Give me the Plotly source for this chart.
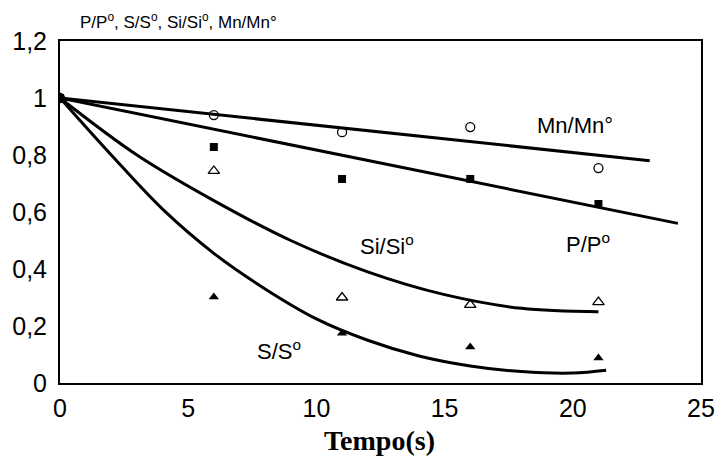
import plotly.graph_objects as go

# measured points (t = 0, 6, 11, 16, 21 s)
t_pts = [0, 6, 11, 16, 21]
mn_pts = [1.0, 0.94, 0.88, 0.898, 0.754]
p_pts = [1.0, 0.828, 0.716, 0.716, 0.628]
si_pts = [1.0, 0.744, 0.30, 0.274, 0.284]
s_pts = [1.0, 0.302, 0.175, 0.126, 0.088]

# fitted curves
mn_fit_x = [0, 23.0]
mn_fit_y = [1.0, 0.78]
p_fit_x = [0, 24.1]
p_fit_y = [1.0, 0.56]
si_fit_x = [0, 3, 6, 9, 12, 15, 18, 21]
si_fit_y = [1.0, 0.80, 0.64, 0.50, 0.39, 0.31, 0.262, 0.25]
s_fit_x = [0, 2, 4, 6, 8, 10, 12, 14, 16, 18, 20, 21.3]
s_fit_y = [1.0, 0.80, 0.61, 0.455, 0.33, 0.225, 0.15, 0.095, 0.06, 0.04, 0.035, 0.045]

x_ticks = [0, 5, 10, 15, 20, 25]
y_ticks = [0, 0.2, 0.4, 0.6, 0.8, 1.0, 1.2]
y_tick_text = ["0", "0,2", "0,4", "0,6", "0,8", "1", "1,2"]

fig = go.Figure()
for fx, fy in [(mn_fit_x, mn_fit_y), (p_fit_x, p_fit_y), (si_fit_x, si_fit_y), (s_fit_x, s_fit_y)]:
    fig.add_trace(go.Scatter(x=fx, y=fy, mode="lines",
                             line=dict(color="black", width=3, shape="spline", smoothing=1.0),
                             showlegend=False, hoverinfo="skip"))

fig.add_trace(go.Scatter(x=t_pts, y=mn_pts, mode="markers", showlegend=False,
                         marker=dict(symbol="circle-open", size=9, color="black", line=dict(width=1.3))))
fig.add_trace(go.Scatter(x=t_pts, y=p_pts, mode="markers", showlegend=False,
                         marker=dict(symbol="square", size=8, color="black")))
fig.add_trace(go.Scatter(x=t_pts, y=si_pts, mode="markers", showlegend=False,
                         marker=dict(symbol="triangle-up-open", size=10, color="black", line=dict(width=1.3))))
fig.add_trace(go.Scatter(x=t_pts, y=s_pts, mode="markers", showlegend=False,
                         marker=dict(symbol="triangle-up", size=9, color="black")))

lab_font = dict(family="Liberation Sans, Arial, sans-serif", size=22, color="black")
for txt, x, y in [("Mn/Mn°", 20.1, 0.905), ("P/P<sup>o</sup>", 20.6, 0.49),
                  ("Si/Si<sup>o</sup>", 12.76, 0.484), ("S/S<sup>o</sup>", 8.54, 0.116)]:
    fig.add_annotation(x=x, y=y, text=txt, showarrow=False, font=lab_font, xanchor="center", yanchor="middle")

fig.add_annotation(xref="paper", yref="paper", x=(78 - 60) / (712 - 60), y=1.0 + (41 - 21) / (383 - 41),
                   text="P/P<sup>o</sup>, S/S<sup>o</sup>, Si/Si<sup>o</sup>, Mn/Mn°", showarrow=False,
                   xanchor="left", yanchor="middle",
                   font=dict(family="Liberation Sans Narrow, Arial Narrow, Liberation Sans, sans-serif", size=17, color="black"))

fig.add_annotation(xref="paper", yref="paper", x=(385 - 60) / (712 - 60), y=(383 - 440) / (383 - 41),
                   text="<b>Tempo(s)</b>", showarrow=False, xanchor="center", yanchor="middle",
                   font=dict(family="Liberation Serif, Times New Roman, serif", size=28, color="black"))

axis_common = dict(showline=True, linecolor="black", linewidth=2, mirror=True, showgrid=False,
                   zeroline=False, ticks="", tickfont=dict(family="Liberation Sans, Arial, sans-serif", size=25, color="black"))
fig.update_xaxes(range=[0, 25], tickvals=x_ticks, ticktext=[str(v) for v in x_ticks],
                 ticklabelstandoff=2, **axis_common)
fig.update_yaxes(range=[0, 1.2], tickvals=y_ticks, ticktext=y_tick_text, ticklabelstandoff=6, **axis_common)

fig.update_layout(width=727, height=459, margin=dict(l=60, r=15, t=41, b=76),
                  plot_bgcolor="white", paper_bgcolor="white")
fig.write_html("out.html", config={"displayModeBar": False},
               post_script="document.body.style.margin='0';document.body.style.overflow='hidden';")
